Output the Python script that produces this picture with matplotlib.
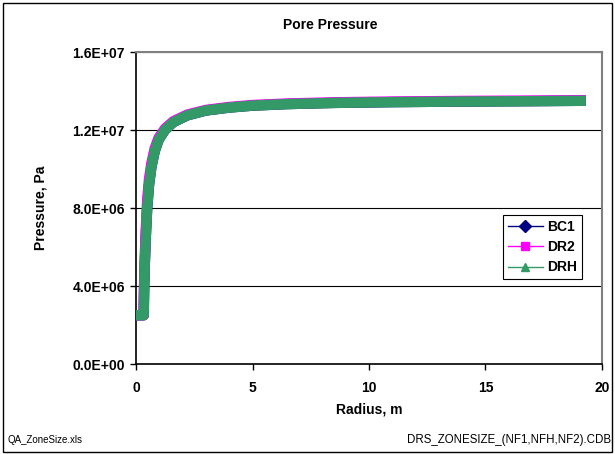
import matplotlib
matplotlib.use("Agg")
import matplotlib.pyplot as plt
from matplotlib.lines import Line2D
from matplotlib.patches import Rectangle
from matplotlib.ticker import FuncFormatter

plt.rcParams['font.family'] = ['Liberation Sans', 'DejaVu Sans']

# radius (m) and pore pressure (Pa) for each run
radius = [0.0, 0.1, 0.2, 0.33, 0.35, 0.38, 0.42, 0.48, 0.56, 0.66, 0.8, 0.97,
          1.24, 1.6, 2.2, 3.0, 4.0, 5.0, 6.5, 8.5, 11.0, 14.0, 17.0, 19.3]
bc1 = [2.5e6, 2.5e6, 2.5e6, 2.5e6, 4.0e6, 5.2e6, 6.5e6, 8.0e6, 9.2e6, 10.1e6,
       10.9e6, 11.5e6, 12.0e6, 12.4e6, 12.75e6, 13.0e6, 13.15e6, 13.25e6,
       13.33e6, 13.39e6, 13.43e6, 13.46e6, 13.48e6, 13.5e6]
dr2 = [2.5e6, 2.5e6, 2.5e6, 2.5e6, 4.3e6, 5.6e6, 6.9e6, 8.4e6, 9.5e6, 10.3e6,
       11.05e6, 11.6e6, 12.07e6, 12.45e6, 12.79e6, 13.03e6, 13.18e6, 13.28e6,
       13.36e6, 13.42e6, 13.46e6, 13.49e6, 13.51e6, 13.53e6]
drh = [2.5e6, 2.5e6, 2.5e6, 2.5e6, 4.0e6, 5.2e6, 6.5e6, 8.0e6, 9.2e6, 10.1e6,
       10.9e6, 11.5e6, 12.0e6, 12.4e6, 12.75e6, 13.0e6, 13.15e6, 13.25e6,
       13.33e6, 13.39e6, 13.43e6, 13.46e6, 13.48e6, 13.5e6]

series = [('BC1', bc1, '#000080', 'D'),
          ('DR2', dr2, '#FF00FF', 's'),
          ('DRH', drh, '#339966', '^')]

fig = plt.figure(figsize=(6.15, 4.54), dpi=100)
ax = fig.add_axes([136 / 615, 1 - 364 / 454, 466 / 615, 312 / 454])

# markers are packed so tightly that each run reads as a solid band
handles = []
for name, p, color, mk in series:
    ax.plot(radius, p, color=color, lw=7.5, solid_capstyle='butt',
            solid_joinstyle='round', zorder=3)
    handles.append(Line2D([], [], color=color, lw=1, marker=mk, ms=6,
                          label=name))

ax.set_xlim(0, 20)
ax.set_ylim(0, 1.6e7)
ax.set_xticks([0, 5, 10, 15, 20])
ax.set_yticks([0, 4e6, 8e6, 1.2e7, 1.6e7])
ax.yaxis.set_major_formatter(FuncFormatter(lambda v, pos: f"{v:.1E}"))
ax.grid(axis='y', color='black', lw=0.8)
ax.set_axisbelow(True)

for side in ['top', 'right']:
    ax.spines[side].set_color('#808080')
    ax.spines[side].set_linewidth(1.5)
for side in ['left', 'bottom']:
    ax.spines[side].set_color('black')
    ax.spines[side].set_linewidth(1.2)

ax.tick_params(direction='out', length=4, width=1, labelsize=10, pad=4)
for lbl in ax.get_xticklabels() + ax.get_yticklabels():
    lbl.set_fontweight('bold')
ax.tick_params(axis='x', pad=8)

ax.set_xlabel('Radius, m', fontsize=10, fontweight='bold', labelpad=6)
ax.set_ylabel('Pressure, Pa', fontsize=10, fontweight='bold', labelpad=18)
fig.text(330 / 615, 1 - 25 / 454, 'Pore Pressure', ha='center', va='center',
         fontsize=10, fontweight='bold')

leg = ax.legend(handles=handles, loc='upper left',
                bbox_to_anchor=((503 - 136) / 466, (364 - 215) / 312),
                prop={'weight': 'bold', 'size': 10}, frameon=True,
                fancybox=False, edgecolor='black', framealpha=1,
                handlelength=2.5, borderpad=0.35, labelspacing=0.45,
                handletextpad=0.35, borderaxespad=0)
leg.get_frame().set_linewidth(0.8)

fig.text(8 / 615, 1 - 440 / 454, 'QA_ZoneSize.xls', ha='left', va='center',
         fontsize=7)
fig.text(611 / 615, 1 - 440 / 454, 'DRS_ZONESIZE_(NF1,NFH,NF2).CDB',
         ha='right', va='center', fontsize=8.3)

fig.patches.append(Rectangle((3 / 615, 2 / 454), 609 / 615, 449 / 454,
                             transform=fig.transFigure, fill=False,
                             edgecolor='black', lw=1))

fig.savefig('out.png', dpi=100)
